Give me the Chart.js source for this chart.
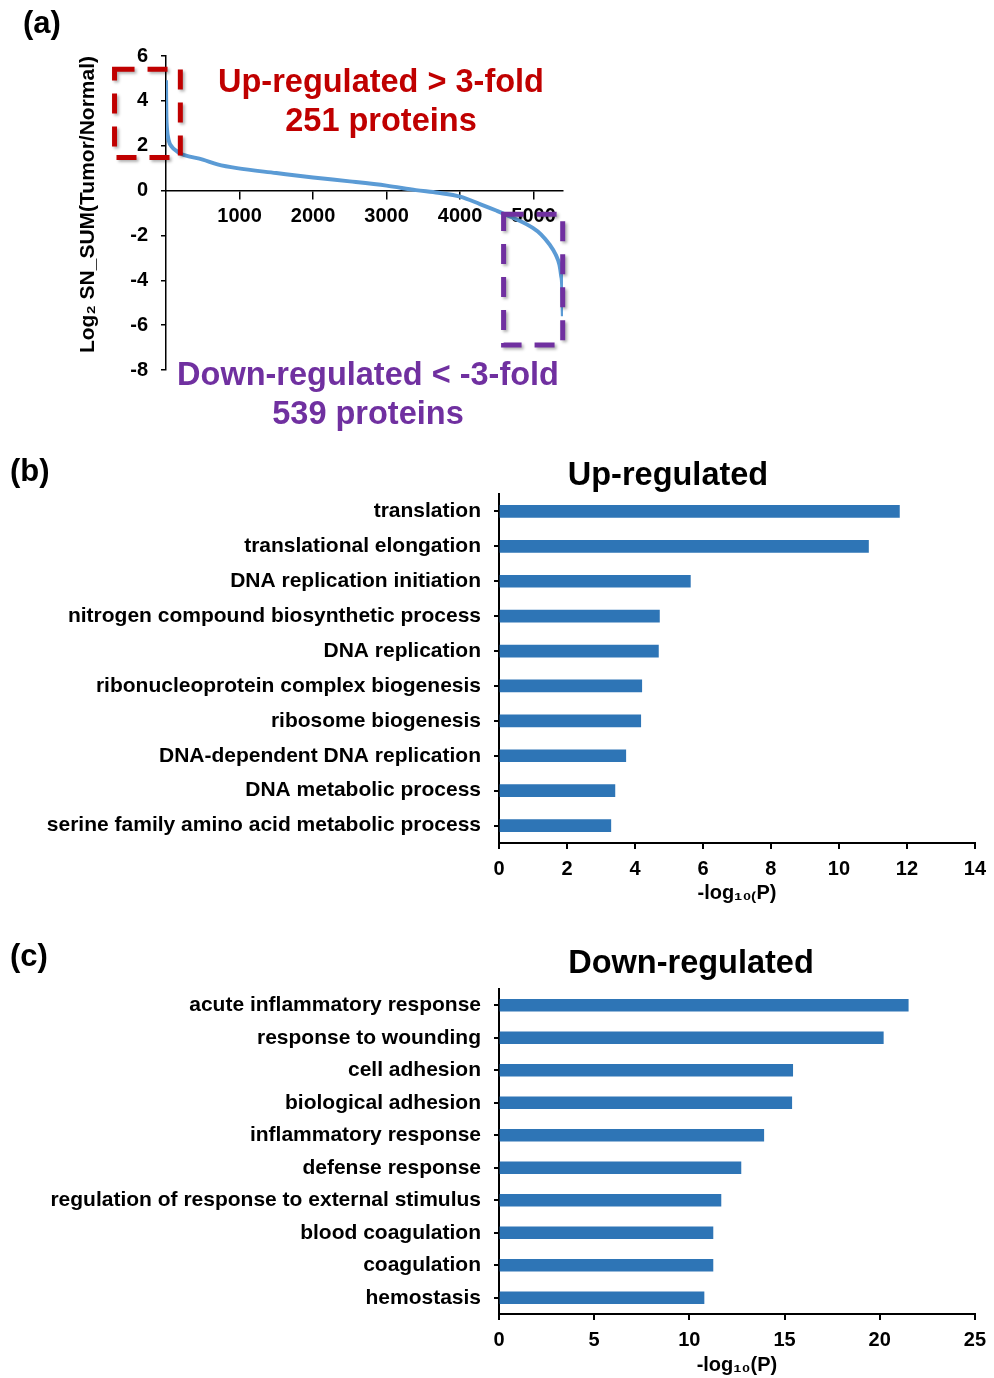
<!DOCTYPE html>
<html>
<head>
<meta charset="utf-8">
<script src="https://cdn.jsdelivr.net/npm/chart.js@4.4.1/dist/chart.umd.min.js"></script>
<style>
  body { margin: 0; background: #fff; }
  #page { position: relative; width: 994px; height: 1378px; overflow: hidden; font-family: "Liberation Sans", Arial, sans-serif; font-weight: bold; }
  canvas { position: absolute; left: 0; }
  .txt { position: absolute; transform: translate(-50%, -50%); white-space: nowrap; line-height: 1; }
  .tag { position: absolute; font-size: 31px; line-height: 1; transform: translateY(-50%); }
</style>
</head>
<body>
<div id="page">
  <canvas id="grafA" width="600" height="395" style="top:0"></canvas>
  <canvas id="grafB" width="994" height="470" style="top:440px"></canvas>
  <canvas id="grafC" width="994" height="448" style="top:930px"></canvas>

  <div class="tag" style="left:23px; top:22px">(a)</div>
  <div class="tag" style="left:10px; top:470px">(b)</div>
  <div class="tag" style="left:10px; top:955px">(c)</div>

  <div class="txt" style="left:381px; top:81px; font-size:32.5px; color:#C00000">Up-regulated &gt; 3-fold</div>
  <div class="txt" style="left:381px; top:120px; font-size:32.5px; color:#C00000">251 proteins</div>
  <div class="txt" style="left:368px; top:374px; font-size:32.5px; color:#7030A0">Down-regulated &lt; -3-fold</div>
  <div class="txt" style="left:368px; top:413px; font-size:32.5px; color:#7030A0">539 proteins</div>

  <div class="txt" style="left:668px; top:474px; font-size:32.5px">Up-regulated</div>
  <div class="txt" style="left:691px; top:962px; font-size:32.5px">Down-regulated</div>
</div>
<script>
// (a) proteins ranked by fold change
const rango = [0, 2, 5, 12, 37, 80, 150, 195, 251, 500, 700, 965, 1500, 2000, 2500, 3000, 3400, 3700, 4000, 4270, 4500, 4718, 4989, 5100, 5216, 5300, 5351, 5375, 5388, 5394, 5398];
const log2Ratio = [4.92, 4.0, 3.3, 2.8, 2.23, 1.95, 1.75, 1.65, 1.58, 1.38, 1.17, 1.0, 0.78, 0.58, 0.41, 0.22, 0.02, -0.1, -0.27, -0.6, -0.9, -1.21, -1.66, -1.95, -2.4, -2.85, -3.3, -3.8, -4.2, -5.0, -5.6];
const ticksRango = [1000, 2000, 3000, 4000, 5000];

// (b) GO terms, up-regulated
const terminosUp = ['translation', 'translational elongation', 'DNA replication initiation', 'nitrogen compound biosynthetic process', 'DNA replication', 'ribonucleoprotein complex biogenesis', 'ribosome biogenesis', 'DNA-dependent DNA replication', 'DNA metabolic process', 'serine family amino acid metabolic process'];
const valoresUp = [11.78, 10.87, 5.63, 4.72, 4.69, 4.2, 4.17, 3.73, 3.41, 3.29];

// (c) GO terms, down-regulated
const terminosDown = ['acute inflammatory response', 'response to wounding', 'cell adhesion', 'biological adhesion', 'inflammatory response', 'defense response', 'regulation of response to external stimulus', 'blood coagulation', 'coagulation', 'hemostasis'];
const valoresDown = [21.5, 20.19, 15.43, 15.38, 13.91, 12.71, 11.66, 11.24, 11.24, 10.77];

// dashed boxes in data units: [x0, x1, y0, y1]
const cajaUp = [-700, 195, 5.41, 1.47];
const cajaDown = [4592, 5396, -1.06, -6.89];

Chart.defaults.font.family = '"Liberation Sans", Arial, sans-serif';
Chart.defaults.font.weight = 'bold';
Chart.defaults.font.size = 20;
Chart.defaults.color = '#000';

const cajas = {
  id: 'cajas',
  afterDraw(chart) {
    const { ctx, scales: { x, y } } = chart;
    [[cajaUp, '#C00000'], [cajaDown, '#7030A0']].forEach(([c, color]) => {
      const x0 = x.getPixelForValue(c[0]), x1 = x.getPixelForValue(c[1]);
      const y0 = y.getPixelForValue(c[2]), y1 = y.getPixelForValue(c[3]);
      ctx.save();
      ctx.strokeStyle = color;
      ctx.lineWidth = 5;
      ctx.setLineDash([20, 13]);
      ctx.shadowColor = 'rgba(0,0,0,0.3)';
      ctx.shadowBlur = 3;
      ctx.shadowOffsetX = 2;
      ctx.shadowOffsetY = 2;
      ctx.strokeRect(x0, y0, x1 - x0, y1 - y0);
      ctx.restore();
    });
  }
};

const puntos = rango.map((r, i) => ({ x: r, y: log2Ratio[i] }));

new Chart(document.getElementById('grafA'), {
  type: 'scatter',
  data: {
    datasets: [{
      data: puntos,
      showLine: true,
      borderColor: '#5B9BD5',
      borderWidth: 4,
      pointRadius: 0,
      cubicInterpolationMode: 'monotone'
    }]
  },
  options: {
    responsive: false,
    animation: false,
    layout: { padding: { top: 56, right: 37, bottom: 12, left: 0 } },
    plugins: { legend: { display: false }, tooltip: { enabled: false } },
    scales: {
      x: {
        type: 'linear',
        position: { y: 0 },
        min: 0,
        max: 5400,
        afterBuildTicks: s => { s.ticks = ticksRango.map(v => ({ value: v })); },
        ticks: { padding: 6, autoSkip: false, callback: v => String(v) },
        grid: { drawOnChartArea: false, tickLength: 8, color: '#000', lineWidth: 1.5 },
        border: { color: '#000', width: 1.5 },
        afterFit: s => { s.height = 0; }
      },
      y: {
        min: -8,
        max: 6,
        ticks: { stepSize: 2, padding: 13 },
        grid: { drawOnChartArea: false, tickLength: 5, color: '#000', lineWidth: 1.5 },
        border: { color: '#000', width: 1.5 },
        title: { display: true, text: 'Log₂ SN_SUM(Tumor/Normal)', align: 'end', font: { size: 21 }, padding: { top: 76, bottom: 0 } },
        afterFit: s => { s.width = 166; }
      }
    }
  },
  plugins: [cajas]
});

function barras(id, etiquetas, valores, maxX, paso, titulo, arriba, derecha, altoEje, abajo) {
  return new Chart(document.getElementById(id), {
    type: 'bar',
    data: {
      labels: etiquetas,
      datasets: [{ data: valores, backgroundColor: '#2E75B6', barThickness: 12 }]
    },
    options: {
      indexAxis: 'y',
      responsive: false,
      animation: false,
      layout: { padding: { top: arriba, right: derecha, bottom: 0, left: 0 } },
      plugins: { legend: { display: false }, tooltip: { enabled: false } },
      scales: {
        x: {
          min: 0,
          max: maxX,
          ticks: { stepSize: paso, padding: 8 },
          grid: { drawOnChartArea: false, tickLength: 6, color: '#000', lineWidth: 2 },
          border: { color: '#000', width: 2 },
          title: { display: true, text: titulo, padding: { top: 0, bottom: abajo } },
          afterFit: s => { s.height = altoEje; }
        },
        y: {
          ticks: { padding: 13, font: { size: 21 } },
          grid: { drawOnChartArea: false, offset: false, tickLength: 5, color: '#000', lineWidth: 2 },
          border: { color: '#000', width: 2 },
          afterFit: s => { s.width = 499; }
        }
      }
    }
  });
}

barras('grafB', terminosUp, valoresUp, 14, 2, '-log₁₀₍P)', 54, 15, 67, 5);
barras('grafC', terminosDown, valoresDown, 25, 5, '-log₁₀(P)', 59, 17, 64, 1);
</script>
</body>
</html>
